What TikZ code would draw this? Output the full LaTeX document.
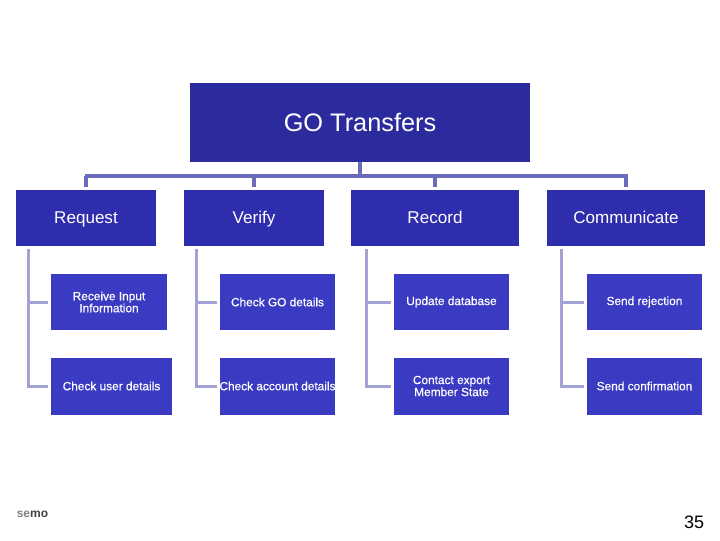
\documentclass[tikz,border=0pt]{standalone}
\usepackage{fontspec}
\setmainfont{Liberation Sans}
\newfontfamily\lowfont[FakeBold=0.5]{Liberation Sans}
\usetikzlibrary{calc}
\definecolor{TopBlue}{HTML}{2B2B9E}
\definecolor{MidBlue}{HTML}{2D2DAD}
\definecolor{LowBlue}{HTML}{3A3AC2}
\definecolor{TrunkBlue}{HTML}{6B6BBD}
\definecolor{BranchBlue}{HTML}{A3A3D6}
\def\px{0.75pt}
\tikzset{
  topbox/.style={fill=TopBlue,text=white,inner sep=0pt,font=\fontsize{19}{22}\selectfont},
  midbox/.style={fill=MidBlue,text=white,inner sep=0pt,font=\fontsize{12.8}{15}\selectfont,
    minimum height=56*\px,text height=10.5pt,text depth=1.7pt},
  lowbox/.style={fill=LowBlue,text=white,inner sep=0pt,align=center,font=\lowfont\fontsize{8.9}{9}\selectfont},
  trunk/.style={draw=TrunkBlue,line width=2.5pt},
  branch/.style={draw=BranchBlue,line width=2.25pt}
}
\begin{document}
\begin{tikzpicture}[x=0.75pt,y=-0.75pt]
  \useasboundingbox (0,0) rectangle (720,540);

  \node [topbox,minimum width=340*\px,minimum height=79*\px] (Transfers) at (360,122.5) {GO Transfers};

  \node [midbox,minimum width=140*\px] (Request) at (86,218) {Request};
  \node [midbox,minimum width=140*\px] (Verify) at (254,218) {Verify};
  \node [midbox,minimum width=168*\px] (Record) at (435,218) {Record};
  \node [midbox,minimum width=158*\px] (Communicate) at (626,218) {Communicate};

  \node [lowbox,minimum width=116*\px,minimum height=56*\px] (ReqOne) at (109,302) {Receive Input\\Information};
  \node [lowbox,minimum width=121*\px,minimum height=57*\px] (ReqTwo) at (111.5,386) {Check user details};
  \node [lowbox,minimum width=115*\px,minimum height=56*\px] (VerOne) at (277.5,302) {Check GO details};
  \node [lowbox,minimum width=115*\px,minimum height=57*\px] (VerTwo) at (277.5,386) {\makebox[0pt]{Check account details}};
  \node [lowbox,minimum width=115*\px,minimum height=56*\px] (RecOne) at (451.5,302) {Update database};
  \node [lowbox,minimum width=115*\px,minimum height=57*\px] (RecTwo) at (451.5,386) {Contact export\\Member State};
  \node [lowbox,minimum width=115*\px,minimum height=56*\px] (ComOne) at (644.5,302) {Send rejection};
  \node [lowbox,minimum width=115*\px,minimum height=57*\px] (ComTwo) at (644.5,386) {Send confirmation};

  \coordinate (Bus) at (360,176);

  \draw [trunk] (Transfers.south) -- (Bus);
  \draw [trunk] ($(Request.north |- Bus)+(-1.5,0)$) -- ($(Communicate.north |- Bus)+(1.5,0)$);
  \foreach \n in {Request,Verify,Record,Communicate}{%
    \draw [trunk,shorten >=3*\px] (\n.north |- Bus) -- (\n.north);
  }

  \foreach \n/\one/\two/\dx in {Request/ReqOne/ReqTwo/12.5,Verify/VerOne/VerTwo/12.5,Record/RecOne/RecTwo/16,Communicate/ComOne/ComTwo/14.5}{%
    \coordinate (Stem) at ($(\n.south west)+(\dx,3)$);
    \draw [branch,shorten >=3*\px] (Stem) |- (\two.west);
    \draw [branch,shorten >=3*\px] (Stem |- \one.west) -- (\one.west);
  }

  \node [inner sep=0pt,font=\fontsize{9}{10}\selectfont\bfseries] (Logo) at (32.5,514) {\textcolor{gray}{se}\textcolor{darkgray}{mo}};
  \node [inner sep=0pt,font=\fontsize{13.5}{14}\selectfont] (Page) at (694,522.5) {35};
\end{tikzpicture}
\end{document}
